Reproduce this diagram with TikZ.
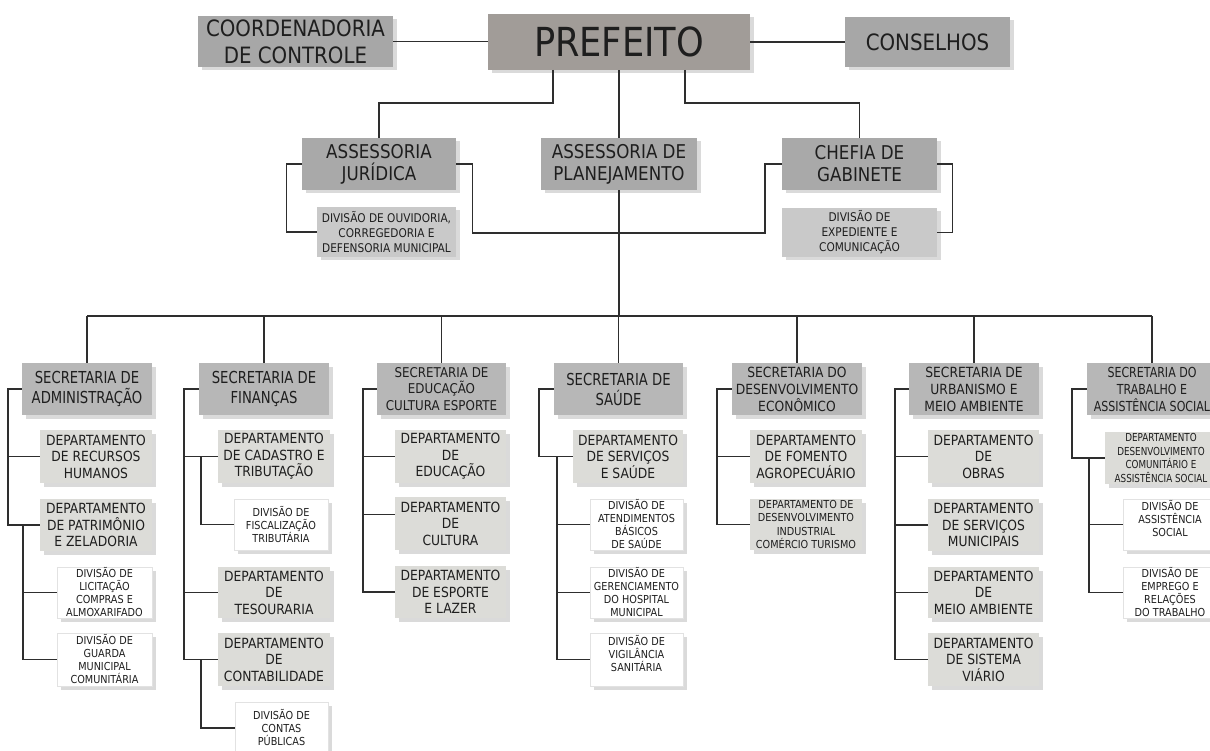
\documentclass[tikz,border=0pt]{standalone}
\usepackage{fontspec}
\setmainfont{DejaVu Sans}[FakeStretch=0.88]
\newfontfamily\narrowfont{DejaVu Sans}[FakeStretch=0.8]
\usetikzlibrary{shadows}
\definecolor{prefc}{HTML}{A19C98}
\definecolor{topc}{HTML}{A7A7A7}
\definecolor{assc}{HTML}{A9A9A9}
\definecolor{subc}{HTML}{C9C9C9}
\definecolor{secc}{HTML}{B7B7B7}
\definecolor{depc}{HTML}{DCDCD8}
\definecolor{divb}{HTML}{E2E2E2}
\definecolor{shadowc}{HTML}{DADADA}
\definecolor{linec}{HTML}{2E2E2E}
\definecolor{txt}{HTML}{1E1E1E}
\newcommand\bx[7]{\node[#2, minimum width={(#5)-(#3)}, minimum height={(#6)-(#4)}] (#1) at ({((#3)+(#5))/2},{((#4)+(#6))/2}) {#7};}
\tikzset{
  base/.style={align=center, inner sep=0pt, text=txt,
    drop shadow={shadow xshift=3.5pt, shadow yshift=-3.5pt, opacity=1, fill=shadowc}},
  prefbox/.style={base, fill=prefc, font=\fontsize{40}{42}\selectfont},
  topbox/.style={base, fill=topc, font=\fontsize{22.5}{27}\selectfont},
  assbox/.style={base, fill=assc, font=\fontsize{19}{22}\selectfont},
  subbox/.style={base, fill=subc, font=\fontsize{12}{15}\selectfont},
  secbox/.style={base, fill=secc, font=\narrowfont\fontsize{16.5}{20}\selectfont},
  secsmall/.style={base, fill=secc, font=\fontsize{14}{17}\selectfont},
  depbox/.style={base, fill=depc, font=\fontsize{14}{16.5}\selectfont},
  depsmall/.style={base, fill=depc, font=\fontsize{11}{13.5}\selectfont},
  divbox/.style={base, fill=white, draw=divb, line width=0.6pt, font=\fontsize{11}{13}\selectfont},
  conn/.style={draw=linec, line width=1.2pt},
}
\begin{document}
\begin{tikzpicture}[x=1pt,y=-1pt]
\useasboundingbox (0,0) rectangle (1210,751);
\clip (0,0) rectangle (1210,751);
\fill[white] (0,0) rectangle (1210,751);

% top level
\bx{coord}{topbox}{198}{16}{393}{67}{COORDENADORIA\\DE CONTROLE}
\bx{pref}{prefbox}{488}{14}{750}{70}{PREFEITO}
\bx{cons}{topbox}{845}{17}{1010}{67}{CONSELHOS}

% second level
\bx{jur}{assbox}{302}{138}{456}{190}{ASSESSORIA\\JURÍDICA}
\bx{plan}{assbox}{541}{138}{697}{190}{ASSESSORIA DE\\PLANEJAMENTO}
\bx{chef}{assbox}{782}{138}{937}{190}{CHEFIA DE\\GABINETE}
\bx{ouv}{subbox}{317}{207}{456}{257}{DIVISÃO DE OUVIDORIA,\\CORREGEDORIA E\\DEFENSORIA MUNICIPAL}
\bx{exp}{subbox}{782}{208}{937}{257}{DIVISÃO DE\\EXPEDIENTE E\\COMUNICAÇÃO}

% secretarias
\bx{sadm}{secbox}{22}{363}{152}{415}{SECRETARIA DE\\ADMINISTRAÇÃO}
\bx{sfin}{secbox}{199}{363}{329}{415}{SECRETARIA DE\\FINANÇAS}
\bx{sedu}{secsmall, font=\fontsize{13.5}{16.5}\selectfont}{377}{363}{506}{415}{SECRETARIA DE\\EDUCAÇÃO\\CULTURA ESPORTE}
\bx{ssau}{secbox}{554}{363}{683}{415}{SECRETARIA DE\\SAÚDE}
\bx{sdes}{secsmall}{732}{363}{862}{415}{SECRETARIA DO\\DESENVOLVIMENTO\\ECONÔMICO}
\bx{surb}{secsmall}{909}{363}{1039}{415}{SECRETARIA DE\\URBANISMO E\\MEIO AMBIENTE}
\bx{strab}{secsmall, font=\narrowfont\fontsize{13.8}{17}\selectfont}{1087}{363}{1217}{415}{SECRETARIA DO\\TRABALHO E\\ASSISTÊNCIA SOCIAL}

% column 1
\bx{drh}{depbox}{40}{430}{152}{483}{DEPARTAMENTO\\DE RECURSOS\\HUMANOS}
\bx{dpat}{depbox}{40}{499}{152}{551}{DEPARTAMENTO\\DE PATRIMÔNIO\\E ZELADORIA}
\bx{dlic}{divbox}{57}{567}{152}{618}{DIVISÃO DE\\LICITAÇÃO\\COMPRAS E\\ALMOXARIFADO}
\bx{dgua}{divbox}{57}{633}{152}{686}{DIVISÃO DE\\GUARDA\\MUNICIPAL\\COMUNITÁRIA}

% column 2
\bx{dcad}{depbox}{218}{430}{330}{483}{DEPARTAMENTO\\DE CADASTRO E\\TRIBUTAÇÃO}
\bx{dfis}{divbox}{234}{499}{328}{550}{DIVISÃO DE\\FISCALIZAÇÃO\\TRIBUTÁRIA}
\bx{dtes}{depbox}{218}{567}{330}{618}{DEPARTAMENTO\\DE\\TESOURARIA}
\bx{dcon}{depbox}{218}{633}{330}{686}{DEPARTAMENTO\\DE\\CONTABILIDADE}
\bx{dcp}{divbox}{235}{702}{328}{754}{DIVISÃO DE\\CONTAS\\PÚBLICAS}

% column 3
\bx{dedu}{depbox}{395}{430}{506}{483}{DEPARTAMENTO\\DE\\EDUCAÇÃO}
\bx{dcul}{depbox}{395}{497}{506}{550}{DEPARTAMENTO\\DE\\CULTURA}
\bx{desp}{depbox}{395}{566}{506}{618}{DEPARTAMENTO\\DE ESPORTE\\E LAZER}

% column 4
\bx{dser}{depbox}{573}{430}{683}{483}{DEPARTAMENTO\\DE SERVIÇOS\\E SAÚDE}
\bx{datb}{divbox}{590}{499}{683}{550}{DIVISÃO DE\\ATENDIMENTOS\\BÁSICOS\\DE SAÚDE}
\bx{dger}{divbox}{590}{567}{683}{618}{DIVISÃO DE\\GERENCIAMENTO\\DO HOSPITAL\\MUNICIPAL}
\bx{dvig}{divbox}{590}{633}{683}{686}{DIVISÃO DE\\VIGILÂNCIA\\SANITÁRIA\\~}

% column 5
\bx{dfom}{depbox}{750}{430}{862}{483}{DEPARTAMENTO\\DE FOMENTO\\AGROPECUÁRIO}
\bx{dind}{depsmall}{750}{499}{862}{550}{DEPARTAMENTO DE\\DESENVOLVIMENTO\\INDUSTRIAL\\COMÉRCIO TURISMO}

% column 6
\bx{dobr}{depbox}{928}{430}{1039}{483}{DEPARTAMENTO\\DE\\OBRAS}
\bx{dsm}{depbox}{928}{499}{1039}{551}{DEPARTAMENTO\\DE SERVIÇOS\\MUNICIPAIS}
\bx{dma}{depbox}{928}{567}{1039}{618}{DEPARTAMENTO\\DE\\MEIO AMBIENTE}
\bx{dsv}{depbox}{928}{633}{1039}{686}{DEPARTAMENTO\\DE SISTEMA\\VIÁRIO}

% column 7
\bx{dcom}{depsmall, font=\narrowfont\fontsize{11}{13.5}\selectfont}{1105}{432}{1217}{484}{DEPARTAMENTO\\DESENVOLVIMENTO\\COMUNITÁRIO E\\ASSISTÊNCIA SOCIAL}
\bx{dass}{divbox}{1123}{499}{1217}{550}{DIVISÃO DE\\ASSISTÊNCIA\\SOCIAL\\~}
\bx{demp}{divbox}{1123}{567}{1217}{618}{DIVISÃO DE\\EMPREGO E\\RELAÇÕES\\DO TRABALHO}

% ---------- connectors ----------
\coordinate (pl) at (553,70);
\coordinate (pr) at (685,70);
\coordinate (jc) at (765,233);
\coordinate (busL) at (87,316);
\coordinate (busR) at (1152,316);

\draw[conn] (coord.east) -- (coord.east -| pref.west);
\draw[conn] (pref.east |- cons.west) -- (cons.west);
\draw[conn] (pl) -- ++(0,33) -| (jur.north);
\draw[conn] (pref.south) -- (plan.north);
\draw[conn] (pr) -- ++(0,33) -| (chef.north);
\draw[conn] (jur.west) -- ++(-15,0) |- (ouv.west);
\draw[conn] (jur.east) -- ++(16,0) |- (jc) |- (chef.west);
\draw[conn] (chef.east) -- ++(15,0) |- (exp.east);
\draw[conn] (plan.south) -- (plan.south |- busL);
\draw[conn] (busL) -- (busR);
\foreach \s in {sadm,sfin,sedu,ssau,sdes,surb,strab}
  \draw[conn] (\s.north) -- (\s.north |- busL);

% column 1
\coordinate (a1) at (8,0);
\coordinate (a2) at (23,0);
\draw[conn] (sadm.west) -- (sadm.west -| a1) |- (dpat.west);
\draw[conn] (drh.west) -- (drh.west -| a1);
\draw[conn] (dpat.west -| a2) |- (dgua.west);
\draw[conn] (dlic.west) -- (dlic.west -| a2);

% column 2
\coordinate (b1) at (184,0);
\coordinate (b2) at (201,0);
\draw[conn] (sfin.west) -- (sfin.west -| b1) |- (dcon.west);
\draw[conn] (dcad.west) -- (dcad.west -| b1);
\draw[conn] (dtes.west) -- (dtes.west -| b1);
\draw[conn] (dcad.west -| b2) |- (dfis.west);
\draw[conn] (dcon.west -| b2) |- (dcp.west);

% column 3
\coordinate (c1) at (363,0);
\draw[conn] (sedu.west) -- (sedu.west -| c1) |- (desp.west);
\draw[conn] (dedu.west) -- (dedu.west -| c1);
\draw[conn] ([yshift=9pt]dcul.west) -- ([yshift=9pt]dcul.west -| c1);

% column 4
\coordinate (d1) at (539,0);
\coordinate (d2) at (557,0);
\draw[conn] (ssau.west) -- (ssau.west -| d1) |- (dser.west);
\draw[conn] (dser.west -| d2) |- (dvig.west);
\draw[conn] (datb.west) -- (datb.west -| d2);
\draw[conn] (dger.west) -- (dger.west -| d2);

% column 5
\coordinate (e1) at (717,0);
\draw[conn] (sdes.west) -- (sdes.west -| e1) |- (dind.west);
\draw[conn] (dfom.west) -- (dfom.west -| e1);

% column 6
\coordinate (f1) at (895,0);
\draw[conn] (surb.west) -- (surb.west -| f1) |- (dsv.west);
\draw[conn] (dobr.west) -- (dobr.west -| f1);
\draw[conn] (dsm.west) -- (dsm.west -| f1);
\draw[conn] (dma.west) -- (dma.west -| f1);

% column 7
\coordinate (g1) at (1072,0);
\coordinate (g2) at (1089,0);
\draw[conn] (strab.west) -- (strab.west -| g1) |- (dcom.west);
\draw[conn] (dcom.west -| g2) |- (demp.west);
\draw[conn] (dass.west) -- (dass.west -| g2);
\end{tikzpicture}
\end{document}
